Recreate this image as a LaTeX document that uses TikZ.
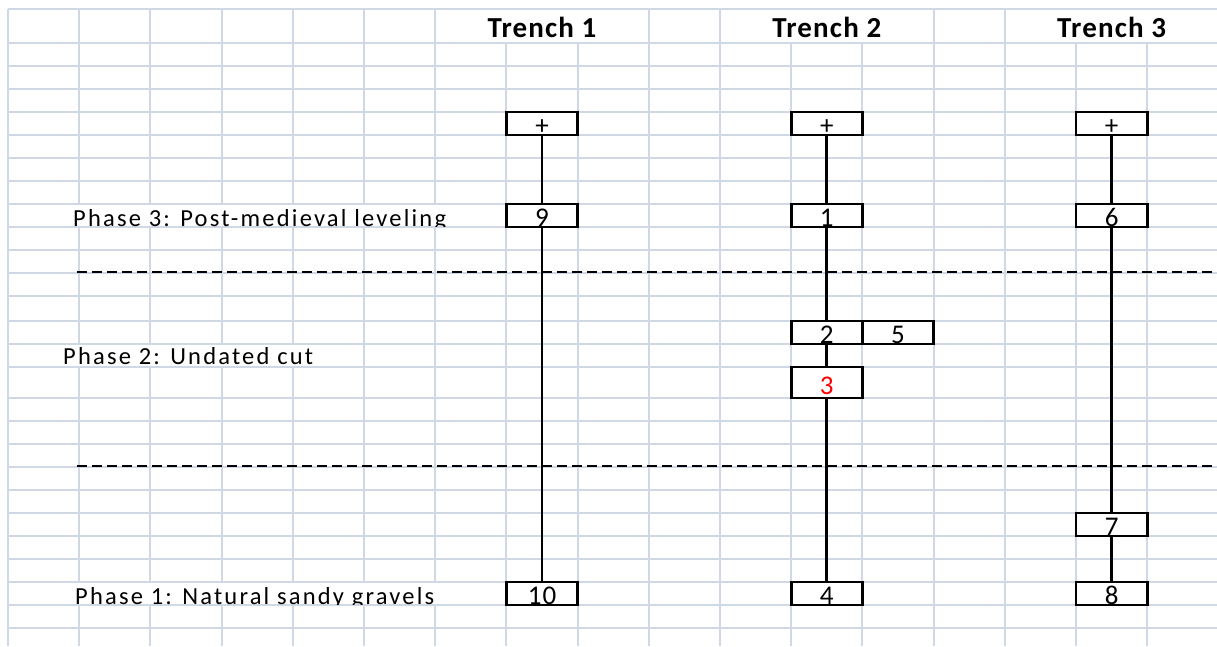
\documentclass[tikz,border=0pt]{standalone}
\usepackage{fontspec}
\setmainfont{Carlito}
\newfontfamily\labelfont[LetterSpace=9]{Carlito}
\newfontfamily\headfont[LetterSpace=4]{Carlito}
\newfontfamily\cellfont[LetterSpace=4]{Carlito}
\definecolor{gridline}{HTML}{D0D7E5}
\definecolor{flagred}{HTML}{FF0000}

\tikzset{
  gridrule/.style={draw=gridline,line width=2pt},
  unitbox/.style={draw=black,line width=2.8pt,fill=white,
    minimum width=71.2pt,minimum height=23pt,inner xsep=0pt,inner ysep=0pt,
    text height=21pt,text depth=0pt,font=\cellfont\fontsize{27}{27}\selectfont},
  tallbox/.style={unitbox,minimum height=31pt,text height=23pt},
  trenchhead/.style={anchor=base,inner sep=0pt,font=\headfont\bfseries\fontsize{29}{29}\selectfont},
  phaselabel/.style={anchor=base west,inner sep=0pt,font=\labelfont\fontsize{24.5}{24.5}\selectfont},
  seq/.style={draw=black,line width=2.8pt},
  phaseline/.style={draw=black,line width=2.6pt,dash pattern=on 10pt off 5pt}
}

\begin{document}
\begin{tikzpicture}[x=1pt,y=-1pt]
\useasboundingbox (0,0) rectangle (1217,646);
\fill[white] (0,0) rectangle (1217,646);

% spreadsheet grid: rows
\foreach \y in {9,43,66,89,112,135,158,181,204,227,250,273,296,321,344,367,398,421,444,467,490,513,536,559,582,605,628}
  \draw[gridrule] (8,\y) -- (1217,\y);
% columns running through the header row
\foreach \x in {8,79.2,150.4,221.6,292.8,364,435.2,648.8,720,933.6,1004.8}
  \draw[gridrule] (\x,9) -- (\x,646);
% columns under the merged header cells
\foreach \x in {506.4,577.6,791.2,862.4,1076,1147.2}
  \draw[gridrule] (\x,43) -- (\x,646);

% cells covered by overflowing text hide their inner gridlines
\fill[white] (70,205) rectangle (500,226);
\fill[white] (70,345) rectangle (320,366);
\fill[white] (70,583) rectangle (500,604);

% trench headings
\node[trenchhead] (h1) at (542,37) {Trench 1};
\node[trenchhead] (h2) at (826.8,37) {Trench 2};
\node[trenchhead] (h3) at (1111.6,37) {Trench 3};

% phase labels, cut off at the bottom of their row
\begin{scope}
  \clip (0,204) rectangle (1217,226.2);
  \node[phaselabel] (ph3) at (73,226) {Phase 3: Post-medieval leveling};
\end{scope}
\node[phaselabel] (ph2) at (63,364) {Phase 2: Undated cut};
\begin{scope}
  \clip (0,582) rectangle (1217,604.2);
  \node[phaselabel] (ph1) at (75,604) {Phase 1: Natural sandy gravels};
\end{scope}

% phase boundaries
\coordinate (b3s) at (77,272);
\coordinate (b3e) at (1217,272);
\coordinate (b2s) at (77,466);
\coordinate (b2e) at (1217,466);
\draw[phaseline] (b3s) -- (b3e);
\draw[phaseline] (b2s) -- (b2e);

% Trench 1
\node[unitbox] (t1top) at (542,123.5) {+};
\node[unitbox] (t1u9) at (542,215.5) {9};
\node[unitbox] (t1u10) at (542,593.5) {10};

% Trench 2
\node[unitbox] (t2top) at (826.8,123.5) {+};
\node[unitbox] (t2u1) at (826.8,215.5) {1};
\node[unitbox] (t2u2) at (826.8,332.5) {2};
\node[unitbox] (t2u5) at (898,332.5) {5};
\node[tallbox,text=flagred] (t2u3) at (826.8,382.5) {3};
\node[unitbox] (t2u4) at (826.8,593.5) {4};

% Trench 3
\node[unitbox] (t3top) at (1111.6,123.5) {+};
\node[unitbox] (t3u6) at (1111.6,215.5) {6};
\node[unitbox] (t3u7) at (1111.6,524.5) {7};
\node[unitbox] (t3u8) at (1111.6,593.5) {8};

% stratigraphic sequences
\draw[seq] (t1top.south) -- (t1u9.north);
\draw[seq] (t1u9.south) -- (t1u10.north);
\draw[seq] (t2top.south) -- (t2u1.north);
\draw[seq] (t2u1.south) -- (t2u2.north);
\draw[seq] (t2u2.south) -- (t2u3.north);
\draw[seq] (t2u3.south) -- (t2u4.north);
\draw[seq] (t3top.south) -- (t3u6.north);
\draw[seq] (t3u6.south) -- (t3u7.north);
\draw[seq] (t3u7.south) -- (t3u8.north);
\end{tikzpicture}
\end{document}
